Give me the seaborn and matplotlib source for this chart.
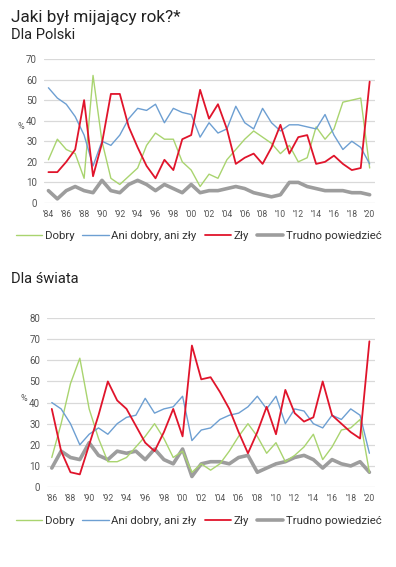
import numpy as np
import pandas as pd
import matplotlib
matplotlib.use("Agg")
import matplotlib.pyplot as plt
import seaborn as sns

# --- dane: Dla Polski (1984-2020) ---
years_pl = list(range(1984, 2021))
dobry_pl = [21, 31, 26, 24, 12, 62, 30, 12, 9, 13, 17, 28, 34, 31, 31, 20, 16, 8, 14, 12,
            21, 26, 31, 35, 32, 29, 24, 28, 20, 22, 37, 31, 36, 49, 50, 51, 17]
ani_pl = [56, 51, 48, 42, 33, 18, 30, 28, 33, 41, 46, 45, 48, 39, 46, 44, 43, 32, 39, 34,
          36, 47, 39, 36, 46, 39, 35, 38, 38, 37, 36, 43, 33, 26, 30, 27, 19]
zly_pl = [15, 15, 20, 26, 50, 13, 29, 53, 53, 37, 27, 18, 12, 21, 16, 31, 33, 55, 41, 48,
          36, 19, 22, 24, 19, 27, 38, 24, 32, 33, 19, 20, 23, 19, 16, 17, 59]
trudno_pl = [6, 2, 6, 8, 6, 5, 11, 6, 5, 9, 11, 9, 6, 9, 7, 5, 9, 5, 6, 6,
             7, 8, 7, 5, 4, 3, 4, 10, 10, 8, 7, 6, 6, 6, 5, 5, 4]

# --- dane: Dla świata (1986-2020) ---
years_sw = list(range(1986, 2021))
dobry_sw = [14, 30, 49, 61, 37, 23, 12, 12, 14, 19, 24, 30, 23, 14, 17, 7, 11, 8, 11, 17,
            24, 30, 24, 16, 21, 12, 15, 19, 25, 13, 19, 27, 28, 32, 7]
ani_sw = [40, 37, 30, 20, 25, 28, 25, 30, 33, 34, 42, 35, 37, 38, 43, 22, 27, 28, 32, 34,
          35, 38, 43, 37, 43, 30, 37, 36, 30, 28, 34, 32, 37, 34, 16]
zly_sw = [37, 17, 7, 6, 20, 34, 50, 41, 37, 29, 21, 17, 26, 37, 24, 67, 51, 52, 45, 37,
          26, 16, 26, 38, 25, 46, 35, 31, 33, 50, 34, 30, 26, 23, 69]
trudno_sw = [9, 17, 14, 13, 21, 15, 13, 17, 16, 17, 13, 18, 13, 11, 18, 5, 11, 12, 12, 11,
             14, 15, 7, 9, 11, 12, 14, 15, 13, 9, 13, 11, 10, 12, 7]

labels = ["Dobry", "Ani dobry, ani zły", "Zły", "Trudno powiedzieć"]
colors = ["#a9d46f", "#6d9fd2", "#e0142b", "#9d9d9d"]
widths = [1.0, 1.0, 1.3, 2.6]

sns.set_theme(style="white")
plt.rcParams["font.family"] = ["Roboto", "DejaVu Sans"]

fig = plt.figure(figsize=(3.96, 5.67), dpi=100)

def panel(rect, years, series, ymax, x0):
    ax = fig.add_axes(rect)
    df = pd.DataFrame({"rok": years})
    for lab, vals in zip(labels, series):
        df[lab] = vals
    long = df.melt(id_vars="rok", var_name="odp", value_name="proc")
    for lab, col, lw in zip(labels, colors, widths):
        sub = long[long["odp"] == lab]
        sns.lineplot(data=sub, x="rok", y="proc", ax=ax, color=col, lw=lw,
                     label=lab, legend=False, zorder=3 if lab != labels[3] else 2)
    ax.set_ylim(0, ymax)
    ax.set_yticks(range(0, ymax + 1, 10))
    ax.set_xlim(years[0] - 0.5, 2020.6)
    ticks = list(range(x0, 2021, 2))
    ax.set_xticks(ticks)
    ax.set_xticklabels(["'%02d" % (t % 100) for t in ticks])
    ax.grid(axis="y", color="#d9d9d9", lw=0.9)
    for s in ax.spines.values():
        s.set_visible(False)
    ax.tick_params(axis="both", length=0, labelsize=6.2, colors="#555555", pad=5)
    ax.tick_params(axis="y", labelsize=7)
    ax.set_xlabel("")
    ax.set_ylabel("%", rotation=0, fontsize=6.5, color="#555555", labelpad=4)
    return ax

ax1 = panel([0.111, 0.642, 0.836, 0.254], years_pl,
            [dobry_pl, ani_pl, zly_pl, trudno_pl], 70, 1984)
ax2 = panel([0.119, 0.141, 0.828, 0.298], years_sw,
            [dobry_sw, ani_sw, zly_sw, trudno_sw], 80, 1986)

fig.text(0.028, 0.982, "Jaki był mijający rok?*", fontsize=12.3, va="top", color="#222222")
fig.text(0.028, 0.950, "Dla Polski", fontsize=10.5, va="top", color="#222222")
fig.text(0.028, 0.521, "Dla świata", fontsize=10.5, va="top", color="#222222")

for ax, y in [(ax1, 0.584), (ax2, 0.082)]:
    h, l = ax.get_legend_handles_labels()
    fig.legend(h, l, loc="center", bbox_to_anchor=(0.502, y), ncol=4, frameon=False,
               fontsize=8.2, handlelength=2.3, handletextpad=0.25, columnspacing=0.7,
               labelcolor="#333333", borderaxespad=0, borderpad=0)

fig.savefig("out.png", dpi=100)
